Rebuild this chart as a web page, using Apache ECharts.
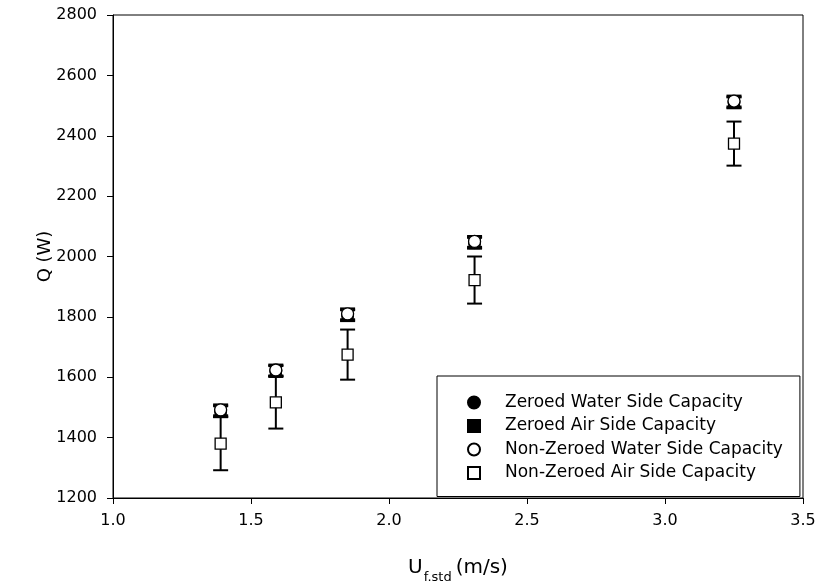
<!DOCTYPE html>
<html><head><meta charset="utf-8">
<script src="https://cdn.jsdelivr.net/npm/echarts@6/dist/echarts.min.js"></script>
<style>html,body{margin:0;padding:0;background:#fff}#c{width:817px;height:583px}</style>
</head><body><div id="c"></div>
<script>
const xValues = [1.39, 1.59, 1.85, 2.31, 3.25];
const zeroedWater = [1488, 1621, 1806, 2046, 2511];
const zeroedWaterErr = [18, 18, 18, 18, 18];
const zeroedAir = [1486, 1619, 1804, 2044, 2509];
const zeroedAirErr = [18, 18, 18, 18, 18];
const nonZeroedWater = [1492, 1624, 1810, 2050, 2515];
const nonZeroedWaterErr = [18, 18, 18, 18, 18];
const nonZeroedAir = [1380, 1517, 1675, 1922, 2374];
const nonZeroedAirErr = [88, 87, 83, 78, 73];
const xTicks = [1.0, 1.5, 2.0, 2.5, 3.0, 3.5];
const yTicks = [1200, 1400, 1600, 1800, 2000, 2200, 2400, 2600, 2800];

const FONT = '"DejaVu Sans", "Liberation Sans", Arial, sans-serif';
const FS = 16;

function pts(vals){ return xValues.map((x,i)=>[x, vals[i]]); }
function errData(vals, errs){ return xValues.map((x,i)=>[x, vals[i]-errs[i], vals[i]+errs[i]]); }
function errSeries(vals, errs, z){
  return {
    type:'custom', z:z, silent:true,
    data: errData(vals, errs),
    renderItem: function(params, api){
      const x = api.value(0);
      const lo = api.coord([x, api.value(1)]);
      const hi = api.coord([x, api.value(2)]);
      const hw = 7.5;
      const st = {stroke:'#000', lineWidth:2};
      return {type:'group', children:[
        {type:'line', shape:{x1:lo[0],y1:lo[1],x2:hi[0],y2:hi[1]}, style:st},
        {type:'line', shape:{x1:lo[0]-hw,y1:lo[1],x2:lo[0]+hw,y2:lo[1]}, style:st},
        {type:'line', shape:{x1:hi[0]-hw,y1:hi[1],x2:hi[0]+hw,y2:hi[1]}, style:st}
      ]};
    }
  };
}

const chart = echarts.init(document.getElementById('c'), null, {renderer:'canvas'});
chart.setOption({
  animation:false,
  backgroundColor:'#fff',
  grid:{left:113, right:14, top:15, bottom:85, containLabel:false, outerBoundsMode:'none',
        show:true, borderColor:'#000', borderWidth:1},
  xAxis:{
    type:'value', min:xTicks[0], max:xTicks[xTicks.length-1], interval:0.5,
    axisLine:{onZero:false, lineStyle:{color:'#000', width:1}},
    axisTick:{show:true, inside:false, length:6, lineStyle:{color:'#000'}},
    splitLine:{show:false},
    axisLabel:{color:'#000', fontFamily:FONT, fontSize:FS, margin:15, formatter:v=>v.toFixed(1)},
    name:'{a|U}{b|f.std}{a|(m/s)}', nameLocation:'middle', nameGap:60, nameMoveOverlap:false,
    nameTextStyle:{rich:{a:{fontFamily:FONT, fontSize:20, color:'#000'}, b:{fontFamily:FONT, fontSize:13, color:'#000', verticalAlign:'bottom', padding:[0,4,-6,1]}}}
  },
  yAxis:{
    type:'value', min:yTicks[0], max:yTicks[yTicks.length-1], interval:200,
    axisLine:{onZero:false, lineStyle:{color:'#000', width:1}},
    axisTick:{show:true, inside:false, length:6, lineStyle:{color:'#000'}},
    splitLine:{show:false},
    axisLabel:{color:'#000', fontFamily:FONT, fontSize:FS, margin:16, formatter:v=>String(v)},
    name:'Q (W)', nameLocation:'middle', nameGap:59, nameRotate:90, nameMoveOverlap:false,
    nameTextStyle:{fontFamily:FONT, fontSize:18, color:'#000'}
  },
  legend:{
    orient:'vertical', left:437, top:376, width:330,
    padding:[18,17,15,30], itemGap:6.5, itemWidth:12, itemHeight:12,
    borderColor:'#000', borderWidth:1, backgroundColor:'#fff',
    textStyle:{fontFamily:FONT, fontSize:17, color:'#000', padding:[0,0,0,20]},
    data:[
      {name:'Zeroed Water Side Capacity', icon:'circle'},
      {name:'Zeroed Air Side Capacity', icon:'rect'},
      {name:'Non-Zeroed Water Side Capacity', icon:'circle'},
      {name:'Non-Zeroed Air Side Capacity', icon:'rect'}
    ]
  },
  series:[
    errSeries(zeroedWater, zeroedWaterErr, 2),
    errSeries(zeroedAir, zeroedAirErr, 2),
    errSeries(nonZeroedWater, nonZeroedWaterErr, 2),
    errSeries(nonZeroedAir, nonZeroedAirErr, 2),
    {name:'Zeroed Water Side Capacity', type:'scatter', symbol:'circle', symbolSize:12, z:3,
     itemStyle:{color:'#000', borderColor:'#000', borderWidth:1, opacity:1}, data:pts(zeroedWater)},
    {name:'Zeroed Air Side Capacity', type:'scatter', symbol:'rect', symbolSize:11, z:3,
     itemStyle:{color:'#000', borderColor:'#000', borderWidth:1, opacity:1}, data:pts(zeroedAir)},
    {name:'Non-Zeroed Water Side Capacity', type:'scatter', symbol:'circle', symbolSize:12, z:4,
     itemStyle:{color:'#fff', borderColor:'#000', borderWidth:1.3, opacity:1}, data:pts(nonZeroedWater)},
    {name:'Non-Zeroed Air Side Capacity', type:'scatter', symbol:'rect', symbolSize:11, z:4,
     itemStyle:{color:'#fff', borderColor:'#000', borderWidth:1.3, opacity:1}, data:pts(nonZeroedAir)}
  ]
});
</script></body></html>
